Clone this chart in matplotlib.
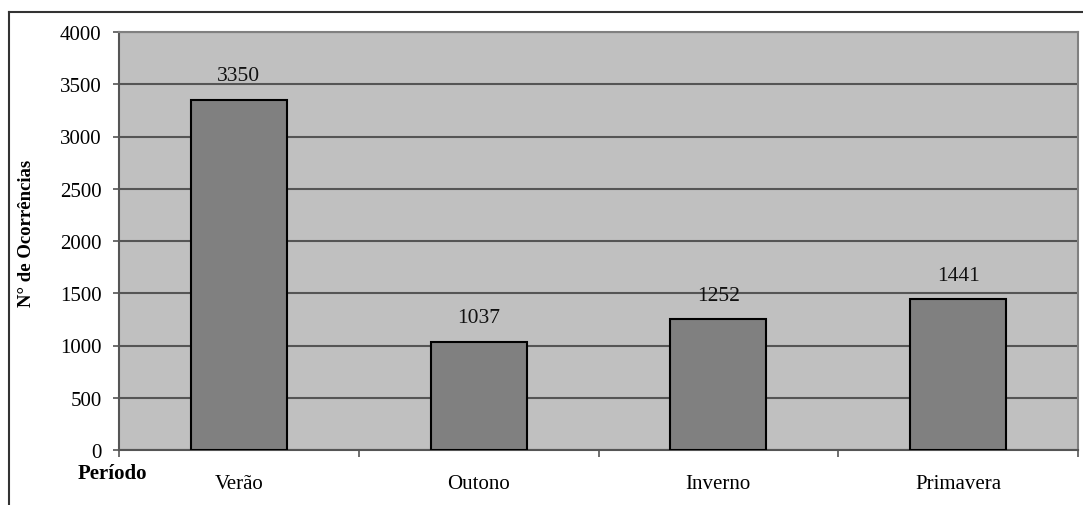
import matplotlib
matplotlib.use("Agg")
import matplotlib.pyplot as plt
from matplotlib.lines import Line2D
import numpy as np

categories = ["Verão", "Outono", "Inverno", "Primavera"]
values = [3350, 1037, 1252, 1441]
yticks = [0, 500, 1000, 1500, 2000, 2500, 3000, 3500, 4000]

plt.rcParams["font.family"] = ["Liberation Serif", "DejaVu Serif"]

W, H = 1083, 506
fig = plt.figure(figsize=(W / 100, H / 100), dpi=100)
ax = fig.add_axes([119 / W, 1 - 451 / H, (1078 - 119) / W, (451 - 33) / H])
ax.set_facecolor("#C0C0C0")

x = np.arange(len(categories))
ax.bar(x, values, width=0.4, color="#808080", edgecolor="black", linewidth=1.5, zorder=3)
for xi, v in zip(x, values):
    ax.annotate(str(v), (xi, v), xytext=(0, 10.5), textcoords="offset points",
                ha="center", va="bottom", fontsize=15.5, color="#111111", zorder=4)

ax.set_xlim(-0.5, len(categories) - 0.5)
ax.set_ylim(0, 4000)
ax.set_yticks(yticks)
ax.set_yticklabels([str(t) for t in yticks], fontsize=15)
ax.yaxis.grid(True, color="#555555", linewidth=1.5, zorder=1)
ax.set_axisbelow(True)

# category labels sit between boundary tick marks
ax.set_xticks(x)
ax.set_xticklabels(categories, fontsize=15)
ax.tick_params(axis="x", length=0, pad=17)
ax.set_xticks(np.arange(len(categories) + 1) - 0.5, minor=True)
ax.tick_params(axis="x", which="minor", length=5, width=1.2, color="#555555", direction="out")
ax.tick_params(axis="y", length=4.5, width=1.2, color="#555555", direction="out", pad=8)

for side in ("left", "bottom"):
    ax.spines[side].set_color("#555555")
    ax.spines[side].set_linewidth(1.5)
for side in ("right", "top"):
    ax.spines[side].set_color("#808080")
    ax.spines[side].set_linewidth(1.5)

ax.set_ylabel("N° de Ocorrências", fontsize=13.5, fontweight="bold")
ax.yaxis.set_label_coords(-(119 - 35) / (1078 - 119), 0.52)
fig.text(78 / W, 1 - 474 / H, "Período", fontsize=15, fontweight="bold",
         ha="left", va="center")

# outer frame (left and top edges)
fig.add_artist(Line2D([9 / W, 9 / W], [0, 1 - 13 / H], transform=fig.transFigure,
                      color="#333333", linewidth=1.5))
fig.add_artist(Line2D([9 / W, 1], [1 - 13 / H, 1 - 13 / H], transform=fig.transFigure,
                      color="#333333", linewidth=1.5))

fig.savefig("out.png", dpi=100, facecolor="white")
